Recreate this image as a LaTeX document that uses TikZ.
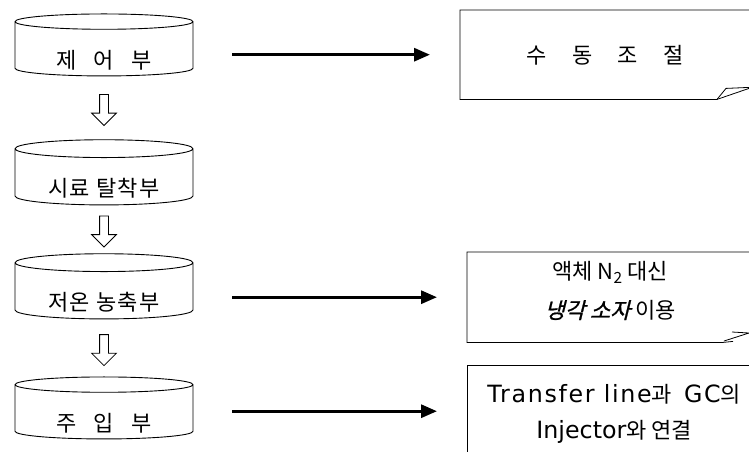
\documentclass[tikz,border=0pt]{standalone}
\usepackage{fontspec}
\setmainfont{Noto Sans CJK KR}
\newfontfamily\drumfont[LetterSpace=6]{Noto Sans CJK KR}
\newfontfamily\slantfont[FakeSlant=0.25,FakeBold=1]{Noto Sans CJK KR}
\newfontfamily\latinfont[Scale=1.08]{DejaVu Sans}
\newfontfamily\latinwide[Scale=1.08,LetterSpace=7]{DejaVu Sans}
\usetikzlibrary{arrows.meta,shapes.geometric,shapes.arrows,positioning}

\newcommand{\wsp}{\hspace{0.8em}}

\tikzset{
  drum/.style={draw,line width=0.9pt,shape=cylinder,shape border rotate=90,
    aspect=0.16,minimum width=178pt,minimum height=62pt,inner sep=0pt,
    text height=38pt,text depth=0pt,font=\fontsize{22}{35}\drumfont},
  harrow/.style={draw,line width=0.8pt,shape=single arrow,rotate=-90,
    minimum width=24pt,minimum height=31pt,inner xsep=0pt,inner ysep=4pt,
    single arrow head extend=8pt,single arrow head indent=0pt},
  note/.style={anchor=north west,inner sep=0pt,align=center},
  noteline/.style={line width=0.8pt},
  link/.style={line width=3pt,-{Triangle[length=16pt,width=13pt]},
    shorten <=39pt,shorten >=30pt}
}

\begin{document}
\begin{tikzpicture}[x=1pt,y=-1pt,font=\fontsize{22}{35}\selectfont]
\useasboundingbox (0,0) rectangle (749,451);
\clip (0,0) rectangle (749,451);

% Step 1
\node[drum] (b1) at (104,49) {제\wsp 어\wsp 부};
\node[drum] (b2) at (104,177) {시료 탈착부};
\node[drum] (b3) at (104,291) {저온 농축부};
\node[drum] (b4) at (104,412) {주\wsp 입\wsp 부};

\path (b1.south) -- (b2.north) node[midway,harrow] (a1) {};
\path (b2.south) -- (b3.north) node[midway,harrow] (a2) {};
\path (b3.south) -- (b4.north) node[midway,harrow] (a3) {};

% Step 2
\node[note,minimum width=290pt,minimum height=89pt,text depth=0pt] (n1) at (460,10)
  {수\hspace{1.15em}동\hspace{1.15em}조\hspace{1.15em}절};
\node[note,minimum width=286pt,minimum height=90pt,text depth=15pt] (n2) at (467,252)
  {액체 N\textsubscript{2} 대신\\[4pt]{\slantfont 냉각 소자} 이용};
\node[note,minimum width=294pt,minimum height=92pt,text depth=0pt] (n3) at (467,365)
  {{\latinwide Transfer line}과\hspace{0.55em}{\latinwide GC}의\\[1pt]{\latinfont Injector}와 연결};

\draw[noteline] (n1.north east) -- (n1.north west) -- (n1.south west)
  -- ++(257,0) coordinate (c1) -- ++(9,-11) -- ++(23,-1);
\draw[noteline] (c1) -- ++(32,-11);
\draw[noteline] (n2.north east) -- (n2.north west) -- (n2.south west)
  -- ++(256,0) -- ++(10,-1);
\draw[noteline] (732,332) -- (749,333) -- (724,341);
\draw[noteline] (n3.south west) -- (n3.north west) -- (n3.north east);

% Step 3
\draw[link] (b1.east |- n1.west) -- (n1.west);
\draw[link] (b3.east |- n2.west) -- (n2.west);
\draw[link] (b4.east |- n3.west) -- (n3.west);

\end{tikzpicture}
\end{document}
